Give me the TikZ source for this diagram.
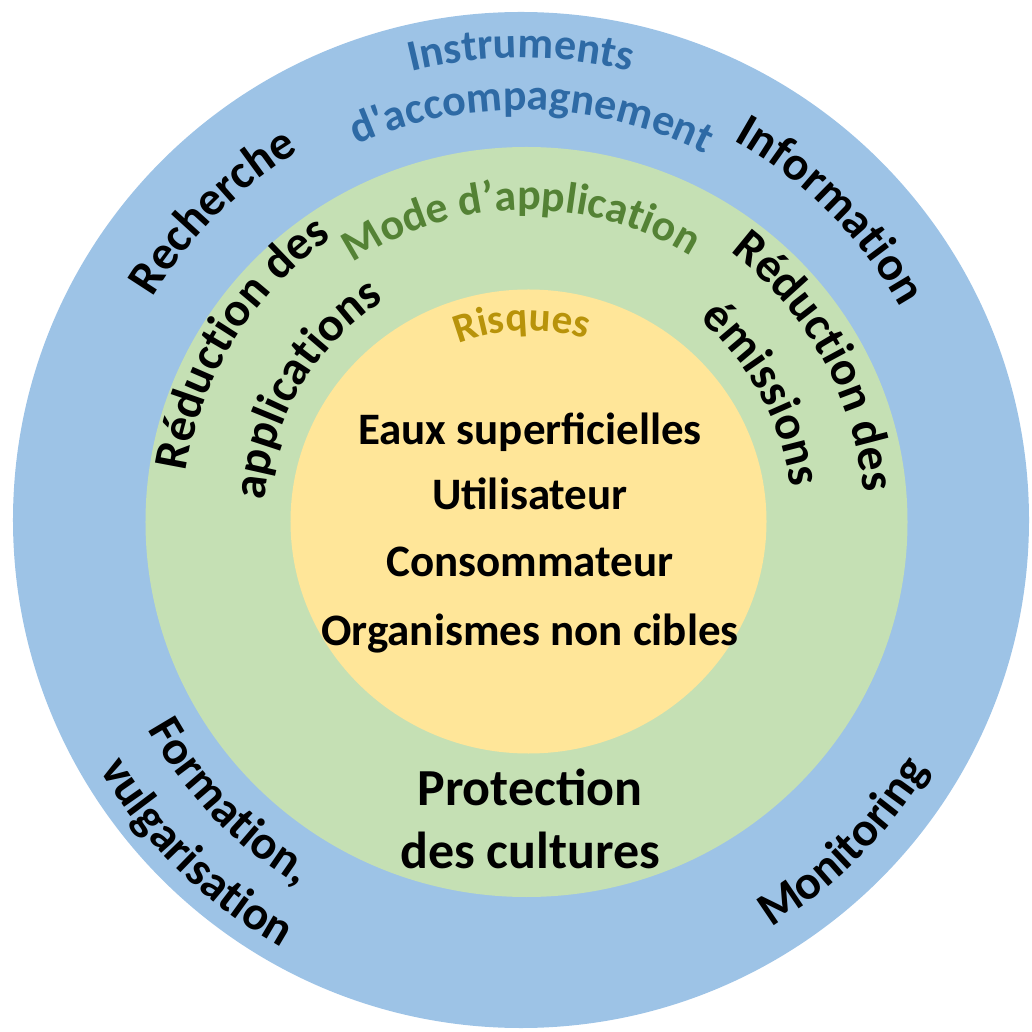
\documentclass[tikz,border=0pt]{standalone}
\usepackage{fontspec}
\setmainfont{Carlito}
\usetikzlibrary{decorations.text}
\definecolor{ringblue}{HTML}{9DC3E6}
\definecolor{ringgreen}{HTML}{C5E0B4}
\definecolor{ringyellow}{HTML}{FFE699}
\definecolor{txtblue}{HTML}{2E6AA5}
\definecolor{txtgreen}{HTML}{548235}
\definecolor{txtgold}{HTML}{B8930A}
\newcommand\bigfont{\fontsize{48}{56}\selectfont\bfseries}
\newcommand\midfont{\fontsize{44}{52}\selectfont\bfseries}
\newcommand\ctrfont{\fontsize{45}{52}\selectfont\bfseries}
\newcommand\riskfont{\fontsize{41}{48}\selectfont\bfseries}
\tikzset{
  arctext/.style={decorate, decoration={text along path, text align=center, text={#1}}},
  ctrtext/.style={anchor=base, font=\ctrfont, text=black, inner sep=0pt},
  protext/.style={anchor=base, font=\fontsize{52}{60}\selectfont\bfseries, text=black, inner sep=0pt},
}
\begin{document}
\begin{tikzpicture}[x=1pt,y=1pt]
\useasboundingbox (-521pt,-512pt) rectangle (511pt,520pt);
% rings
\fill[ringblue] (0pt,0pt) circle[radius=508pt];
\fill[ringgreen] (5.5pt,-2pt) circle[x radius=381pt, y radius=375pt];
\fill[ringyellow] (7.5pt,-1.5pt) circle[x radius=238pt, y radius=232pt];
% outer ring texts
\path[arctext={|\midfont\color{txtblue}|Instruments}] (140:462pt) arc[start angle=140, end angle=40, radius=462pt];
\path[arctext={|\midfont\color{txtblue}|d{\textquotesingle}accompagnement}] (148.5:410pt) arc[start angle=148.5, end angle=28.5, radius=410pt];
\path[arctext={|\bigfont|Recherche}] (180:430pt) arc[start angle=180, end angle=90, radius=430pt];
\path[arctext={|\bigfont|Information}] (90:435pt) arc[start angle=90, end angle=0, radius=435pt];
\path[arctext={|\bigfont|Formation,}] (180:428pt) arc[start angle=180, end angle=268, radius=428pt];
\path[arctext={|\bigfont|vulgarisation}] (180:490pt) arc[start angle=180, end angle=271.4, radius=490pt];
\path[arctext={|\bigfont|Monitoring}] (-90:478pt) arc[start angle=-90, end angle=0, radius=478pt];
% green ring texts
\path[arctext={|\midfont\color{txtgreen}|Mode d’application}] ([shift={(5.5pt,-2pt)}]146:312pt) arc[start angle=146, end angle=36, radius=312pt];
\path[arctext={|\bigfont|Réduction des}] ([shift={(5.5pt,-2pt)}]198:344pt) arc[start angle=198, end angle=98, radius=344pt];
\path[arctext={|\bigfont|applications}] ([shift={(5.5pt,-2pt)}]204:263pt) arc[start angle=204, end angle=94, radius=263pt];
\path[arctext={|\bigfont|Réduction des}] ([shift={(5.5pt,-2pt)}]79:338pt) arc[start angle=79, end angle=-21, radius=338pt];
\path[arctext={|\bigfont|émissions}] ([shift={(5.5pt,-2pt)}]78.5:266pt) arc[start angle=78.5, end angle=-21.5, radius=266pt];
% inner
\path[arctext={|\riskfont\color{txtgold}|Risques}] ([shift={(7.5pt,-1.5pt)}]132:191pt) arc[start angle=132, end angle=52, radius=191pt];
\node[ctrtext] (eaux) at (9pt,75pt) {Eaux superficielles};
\node[ctrtext] (util) at (9pt,10pt) {Utilisateur};
\node[ctrtext] (cons) at (9pt,-57pt) {Consommateur};
\node[ctrtext] (orga) at (9pt,-125pt) {Organismes non cibles};
\node[protext] (prot) at (9pt,-285pt) {Protection};
\node[protext] (cult) at (9pt,-348pt) {des cultures};
\end{tikzpicture}
\end{document}
